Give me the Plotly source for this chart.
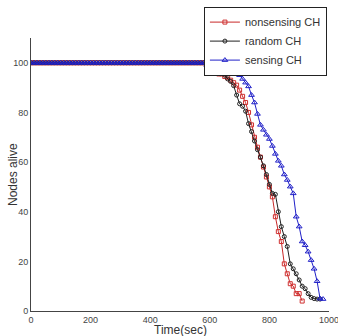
import plotly.graph_objects as go

# ---- data ----
flat_red = list(range(0, 590, 10))
red_t = flat_red + [590, 600, 610, 620, 630, 640, 650, 660, 670, 680, 690, 700, 710, 720, 730, 740,
                    750, 760, 770, 780, 790, 800, 810, 820, 830, 840, 850, 860, 870, 880, 890, 900, 910]
red_n = [100] * len(flat_red) + [99, 98, 96.5, 96, 95.5, 95.5, 94.5, 94, 93, 92, 91, 89, 86.5, 84, 80, 75,
                                 70, 66, 62, 58, 54, 50, 46, 38, 32, 28, 19, 15, 11, 10, 7, 7, 4]

flat_black = list(range(0, 600, 10))
black_t = flat_black + [600, 610, 620, 630, 640, 650, 660, 670, 680, 690, 700, 710, 720, 730, 740, 750,
                        760, 770, 780, 790, 800, 810, 820, 830, 840, 850, 860, 870, 880, 890, 900, 910,
                        920, 930, 940, 950, 960, 970]
black_n = [100] * len(flat_black) + [97.6, 97.4, 97, 96.8, 96.4, 95, 93.5, 92.5, 90.8, 87, 83.5, 82.5, 80.5,
                                     75.5, 72.3, 68.5, 65, 62, 58.5, 55, 51, 47.4, 47, 40, 34, 30, 26, 19,
                                     17, 15, 12.5, 10, 9, 7, 5.5, 5, 4.8, 4.8]

flat_blue = list(range(0, 590, 10))
blue_t = flat_blue + [590, 600, 610, 620, 630, 640, 650, 660, 670, 680, 690, 700, 710, 720, 730, 740, 750,
                      760, 770, 780, 790, 800, 810, 820, 830, 840, 850, 860, 870, 880, 890, 900, 910, 920,
                      930, 940, 950, 960, 970, 980]
blue_n = [100] * len(flat_blue) + [99, 99, 99, 99, 99, 99, 99, 99, 99, 97.5, 96.5, 95, 93.5, 92, 90.5, 87, 84,
                                   79.4, 75, 73, 71, 69.3, 66.5, 63.3, 60.5, 58.5, 55, 52.8, 50.1, 47.4, 38,
                                   34, 28, 26.5, 23.9, 20.5, 17, 12, 5, 4.8]

x_ticks = [0, 200, 400, 600, 800, 1000]
y_ticks = [0, 20, 40, 60, 80, 100]

FONT = "Liberation Sans, Arial, sans-serif"

fig = go.Figure()
fig.add_trace(go.Scatter(x=red_t, y=red_n, mode="lines+markers", name="nonsensing CH",
                         line=dict(color="#c82828", width=1),
                         marker=dict(symbol="square-open", size=4, color="#d03030", line=dict(width=1))))
fig.add_trace(go.Scatter(x=black_t, y=black_n, mode="lines+markers", name="random CH",
                         line=dict(color="#202020", width=1),
                         marker=dict(symbol="circle-open", size=4, color="#202020", line=dict(width=1))))
fig.add_trace(go.Scatter(x=blue_t, y=blue_n, mode="lines+markers", name="sensing CH",
                         line=dict(color="#2020c8", width=1),
                         marker=dict(symbol="triangle-up-open", size=5, color="#2020c8", line=dict(width=1))))

fig.update_layout(
    width=338, height=336,
    margin=dict(l=31, r=9, t=38, b=25, autoexpand=False),
    paper_bgcolor="white", plot_bgcolor="white",
    font=dict(family=FONT, color="#333"),
    showlegend=True,
    legend=dict(x=0.993, y=1.115, xanchor="right", yanchor="top",
                bgcolor="white", bordercolor="#222", borderwidth=1,
                font=dict(size=11, color="#333", family=FONT),
                tracegroupgap=0, itemwidth=30),
    xaxis=dict(range=[0, 1000], tickvals=x_ticks, ticktext=[str(v) for v in x_ticks],
               showgrid=False, zeroline=False, showline=True, linecolor="#444", linewidth=1,
               ticks="", tickfont=dict(size=9, color="#444", family=FONT), automargin=False,
               ticklabeloverflow="allow"),
    yaxis=dict(range=[0, 110], tickvals=y_ticks, ticktext=[str(v) for v in y_ticks],
               showgrid=False, zeroline=False, showline=True, linecolor="#444", linewidth=1,
               ticks="", tickfont=dict(size=9, color="#444", family=FONT), automargin=False,
               ticklabeloverflow="allow"),
    annotations=[
        dict(text="Time(sec)", xref="paper", yref="paper", x=0.5, y=-0.038, yanchor="top",
             xanchor="center", showarrow=False, font=dict(size=12, color="#333", family=FONT)),
        dict(text="Nodes alive", xref="paper", yref="paper", x=-0.062, y=0.5, xanchor="center",
             yanchor="middle", textangle=-90, showarrow=False,
             font=dict(size=12, color="#333", family=FONT)),
    ],
)

fig.write_html("out.html", config={"displayModeBar": False},
               post_script="document.body.style.margin='0';document.body.style.overflow='hidden';")
